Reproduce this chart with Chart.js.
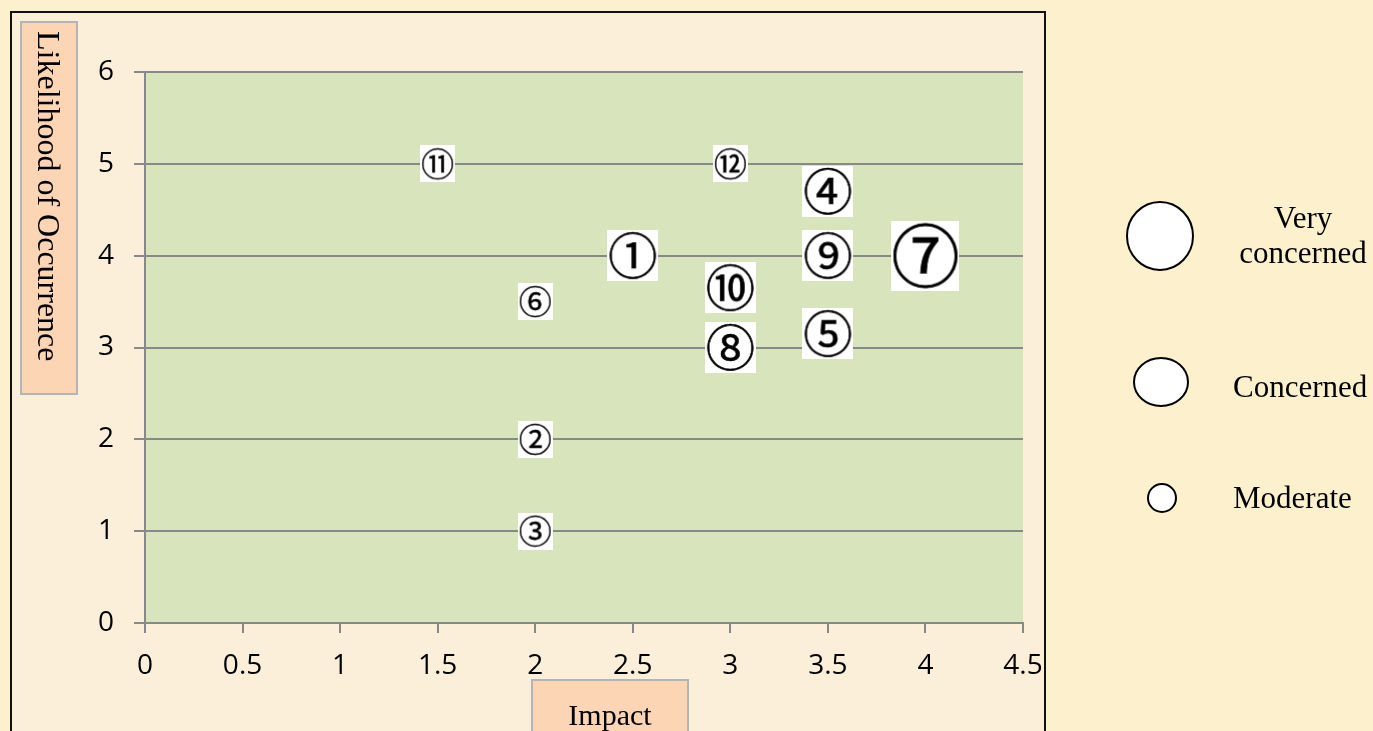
<!DOCTYPE html>
<html>
<head>
<meta charset="utf-8">
<title>Risk map</title>
<script src="https://cdn.jsdelivr.net/npm/chart.js@4.4.1/dist/chart.umd.min.js"></script>
<style>
  html, body { margin: 0; padding: 0; background: #fdf0cc; overflow: hidden; }
  canvas { display: block; }
</style>
</head>
<body>
<canvas id="riskChart" width="1373" height="731"></canvas>
<script>
// Risk items: circled id, impact (x), likelihood (y), concern level
const riskIds = ['①', '②', '③', '④', '⑤', '⑥', '⑦', '⑧', '⑨', '⑩', '⑪', '⑫'];
const impact = [2.5, 2, 2, 3.5, 3.5, 2, 4, 3, 3.5, 3, 1.5, 3];
const likelihood = [4, 2, 1, 4.7, 3.15, 3.5, 4, 3, 4, 3.65, 5, 5];
const concernLevel = [1, 0, 0, 1, 1, 0, 2, 1, 1, 1, 0, 0]; // 0 moderate, 1 concerned, 2 very concerned

const levelNames = ['Moderate', 'Concerned', 'Very concerned'];
const xTickLabels = ['0', '0.5', '1', '1.5', '2', '2.5', '3', '3.5', '4', '4.5'];
const yTickLabels = ['0', '1', '2', '3', '4', '5', '6'];
const xTitle = 'Impact';
const yTitle = 'Likelihood of Occurrence';

const SERIF = '"Liberation Serif", "Times New Roman", serif';
const TICK_FONT = '"Open Sans", "Noto Sans", sans-serif';
const GLYPH_FONT = '"Noto Sans CJK JP", "DejaVu Sans", sans-serif';
const glyphSize = [33, 49, 68];

// Circled id on a white tile, used as the point style of each risk
function makeBadge(text, size) {
  const c = document.createElement('canvas');
  let g = c.getContext('2d');
  const font = size + 'px ' + GLYPH_FONT;
  g.font = font;
  const m = g.measureText(text);
  const left = m.actualBoundingBoxLeft, right = m.actualBoundingBoxRight;
  const asc = m.actualBoundingBoxAscent, desc = m.actualBoundingBoxDescent;
  const pad = 2;
  c.width = Math.ceil(left + right) + pad * 2;
  c.height = Math.ceil(asc + desc) + pad * 2;
  g = c.getContext('2d');
  g.fillStyle = '#ffffff';
  g.fillRect(0, 0, c.width, c.height);
  g.font = font;
  g.fillStyle = '#000000';
  g.strokeStyle = '#000000';
  g.lineWidth = size / 80;
  g.textBaseline = 'alphabetic';
  g.fillText(text, pad + left, pad + asc);
  g.strokeText(text, pad + left, pad + asc);
  return c;
}
const badges = riskIds.map((t, i) => makeBadge(t, glyphSize[concernLevel[i]]));

const points = impact.map((x, i) => ({ x: x, y: likelihood[i] }));

// Frame, plot fill, axis titles and the size key
const decorPlugin = {
  id: 'decor',
  beforeDraw(chart) {
    const ctx = chart.ctx;
    const a = chart.chartArea;
    ctx.save();
    ctx.fillStyle = '#fdf0cc';
    ctx.fillRect(0, 0, chart.width, chart.height);
    ctx.fillStyle = '#fbefda';
    ctx.fillRect(11, 12, 1034, 740);
    ctx.strokeStyle = '#111111';
    ctx.lineWidth = 2;
    ctx.strokeRect(11, 12, 1034, 740);
    ctx.fillStyle = '#d8e4bc';
    ctx.fillRect(a.left, a.top, a.right - a.left, a.bottom - a.top);
    ctx.restore();
  },
  afterDraw(chart) {
    const ctx = chart.ctx;
    ctx.save();
    // y title box
    ctx.fillStyle = '#fcd5b4';
    ctx.fillRect(21, 22, 56, 372);
    ctx.strokeStyle = '#b4b4b4';
    ctx.lineWidth = 2;
    ctx.strokeRect(21, 22, 56, 372);
    ctx.save();
    ctx.translate(38, 31);
    ctx.rotate(Math.PI / 2);
    ctx.fillStyle = '#000';
    ctx.font = '32px ' + SERIF;
    ctx.textAlign = 'left';
    ctx.textBaseline = 'alphabetic';
    ctx.fillText(yTitle, 0, 0);
    ctx.restore();
    // x title box
    ctx.fillStyle = '#fcd5b4';
    ctx.fillRect(532, 680, 156, 70);
    ctx.strokeRect(532, 680, 156, 70);
    ctx.fillStyle = '#000';
    ctx.font = '30px ' + SERIF;
    ctx.textAlign = 'center';
    ctx.fillText(xTitle, 610, 725);
    // size key
    const keys = [
      { cx: 1160, cy: 236, rx: 33, ry: 34 },
      { cx: 1161, cy: 382, rx: 27, ry: 24 },
      { cx: 1162, cy: 498, rx: 14, ry: 14 }
    ];
    keys.forEach(k => {
      ctx.beginPath();
      ctx.ellipse(k.cx, k.cy, k.rx, k.ry, 0, 0, Math.PI * 2);
      ctx.fillStyle = '#ffffff';
      ctx.fill();
      ctx.strokeStyle = '#000';
      ctx.lineWidth = 2;
      ctx.stroke();
    });
    ctx.fillStyle = '#000';
    ctx.font = '31px ' + SERIF;
    const very = levelNames[2].split(' ');
    ctx.textAlign = 'center';
    ctx.fillText(very[0], 1303, 228);
    ctx.fillText(very[1], 1303, 263);
    ctx.textAlign = 'left';
    ctx.fillText(levelNames[1], 1233, 397);
    ctx.fillText(levelNames[0], 1233, 508);
    ctx.restore();
  }
};

new Chart(document.getElementById('riskChart'), {
  type: 'scatter',
  data: {
    datasets: [{
      label: 'Risks',
      data: points,
      pointStyle: ctx => badges[ctx.dataIndex],
      pointRadius: 10,
      pointHoverRadius: 10
    }]
  },
  options: {
    responsive: false,
    devicePixelRatio: 1,
    animation: false,
    events: [],
    layout: { padding: { top: 72, right: 350, bottom: 0, left: 0 } },
    plugins: {
      legend: { display: false },
      tooltip: { enabled: false }
    },
    scales: {
      x: {
        type: 'linear',
        min: 0,
        max: 4.5,
        afterFit: s => { s.height = 108; },
        afterBuildTicks: s => { s.ticks = xTickLabels.map(v => ({ value: parseFloat(v) })); },
        ticks: {
          callback: (v, i) => xTickLabels[i],
          color: '#000',
          font: { family: TICK_FONT, size: 28 },
          padding: 16,
          maxRotation: 0
        },
        grid: { drawOnChartArea: false, drawTicks: true, tickLength: 10, color: '#888888', lineWidth: 2 },
        border: { display: true, color: '#888888', width: 2 }
      },
      y: {
        type: 'linear',
        min: 0,
        max: 6,
        afterFit: s => { s.width = 145; },
        afterBuildTicks: s => { s.ticks = yTickLabels.map(v => ({ value: parseFloat(v) })); },
        ticks: {
          callback: (v, i) => yTickLabels[i],
          color: '#000',
          font: { family: TICK_FONT, size: 28 },
          padding: 20
        },
        grid: { drawOnChartArea: true, drawTicks: true, tickLength: 11, color: '#888888', lineWidth: 2 },
        border: { display: true, color: '#888888', width: 2 }
      }
    }
  },
  plugins: [decorPlugin]
});
</script>
</body>
</html>
